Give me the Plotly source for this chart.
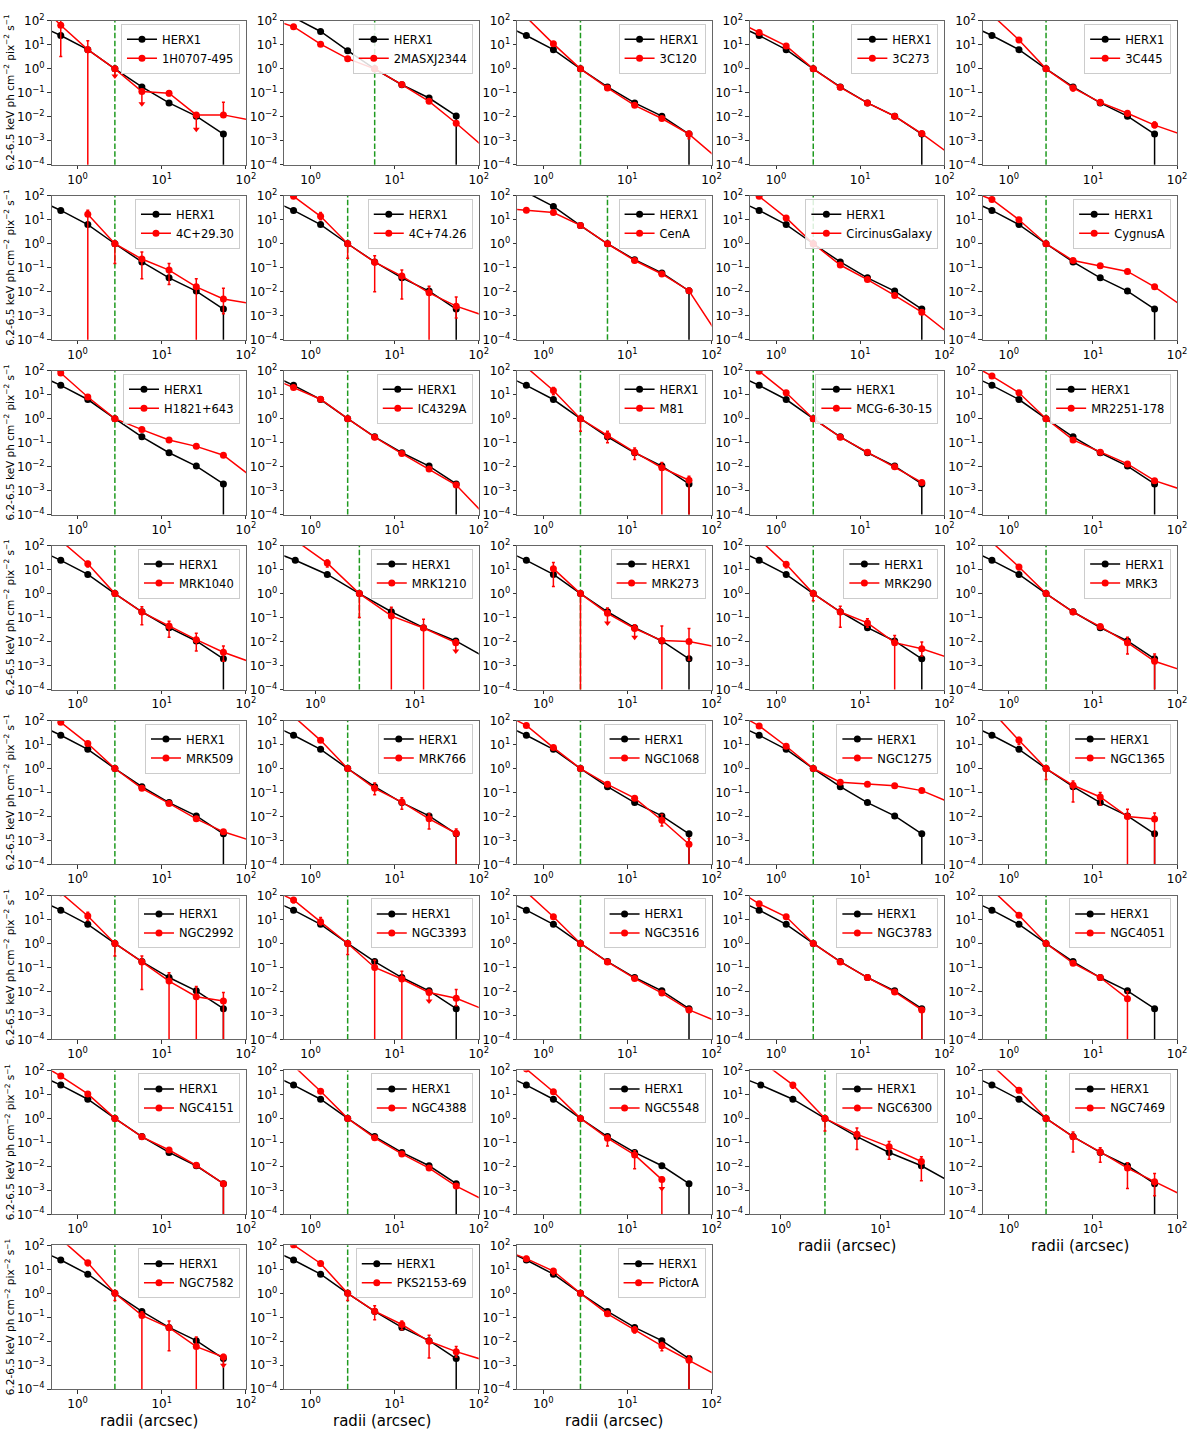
import plotly.graph_objects as go

# ---------------- data ----------------
RADII = [0.3, 0.63, 1.32, 2.77, 5.8, 12.2, 25.7, 54.0, 114.0]

HERX1 = [82, 24.5, 6.3, 1.0, 0.175, 0.038, 0.0106, 0.0019, None]
HERX1_ERR = {1: (22, 27), 2: (5.6, 7.0), 4: (0.16, 0.19), 5: (0.034, 0.042),
             6: (0.0097, 0.0115), 7: (0, 0.0021)}

SOURCES = ["1H0707-495", "2MASXJ2344", "3C120", "3C273", "3C445",
           "4C+29.30", "4C+74.26", "CenA", "CircinusGalaxy", "CygnusA",
           "H1821+643", "IC4329A", "M81", "MCG-6-30-15", "MR2251-178",
           "MRK1040", "MRK1210", "MRK273", "MRK290", "MRK3",
           "MRK509", "MRK766", "NGC1068", "NGC1275", "NGC1365",
           "NGC2992", "NGC3393", "NGC3516", "NGC3783", "NGC4051",
           "NGC4151", "NGC4388", "NGC5548", "NGC6300", "NGC7469",
           "NGC7582", "PKS2153-69", "PictorA"]

NORM_RADIUS = [2.77, 5.8, 2.77, 2.77, 2.77,
               2.77, 2.77, 5.8, 2.77, 2.77,
               2.77, 2.77, 2.77, 2.77, 2.77,
               2.77, 2.77, 2.77, 2.77, 2.77,
               2.77, 2.77, 2.77, 2.77, 2.77,
               2.77, 2.77, 2.77, 2.77, 2.77,
               2.77, 2.77, 2.77, 2.77, 2.77,
               2.77, 2.77, 2.77]

X_LOG_RANGE = [[-0.31, 2.0]] * 16 + [[-0.31, 1.64]] + [[-0.31, 2.0]] * 16 + \
              [[-0.31, 1.64]] + [[-0.31, 2.0]] * 4

RED = [
    [890, 66, 6.3, 1, 0.113, 0.097, 0.012, 0.012, 0.0072],       # 1H0707-495
    [139, 57, 10.7, 2.66, 1, 0.22, 0.044, 0.0054, 0.00056],      # 2MASXJ2344
    [1850, 140, 11, 1, 0.16, 0.03, 0.0085, 0.0019, 0.0002],      # 3C120
    [120, 33, 9, 1, 0.17, 0.038, 0.0105, 0.002, 0.00029],        # 3C273
    [2000, 185, 16, 1, 0.16, 0.04, 0.014, 0.0045, 0.0018],       # 3C445
    [None, None, 17, 1, 0.23, 0.08, 0.016, 0.005, 0.0032],       # 4C+29.30
    [650, 95, 14, 1, 0.17, 0.045, 0.009, 0.0025, 0.00103],       # 4C+74.26
    [31, 25, 20, 5.8, 1, 0.2, 0.055, 0.011, 0.0002],             # CenA
    [750, 95, 12, 1, 0.13, 0.032, 0.007, 0.0014, 0.00018],       # Circinus
    [192, 70, 10, 1, 0.2, 0.12, 0.07, 0.016, 0.0026],            # CygnusA
    [590, 80, 8, 1, 0.35, 0.13, 0.07, 0.03, 0.004],              # H1821+643
    [60, 20, 6.5, 1, 0.17, 0.035, 0.008, 0.0017, 0.00011],       # IC4329A
    [1500, 140, 15, 1, 0.2, 0.04, 0.009, 0.0027, None],          # M81
    [600, 95, 12, 1, 0.17, 0.04, 0.01, 0.0022, None],            # MCG-6-30-15
    [255, 60, 12, 1, 0.13, 0.04, 0.013, 0.0026, 0.0011],         # MR2251-178
    [1500, 162, 17.6, 1, 0.17, 0.045, 0.012, 0.0036, 0.0014],    # MRK1040
    [1500, 160, 18.7, 1, 0.117, 0.037, 0.009, None, None],       # MRK1210
    [None, None, 11, 1, 0.15, 0.035, 0.011, 0.01, 0.0061],       # MRK273
    [2000, 183, 16.6, 1, 0.17, 0.06, 0.009, 0.005, 0.0021],      # MRK290
    [1500, 141, 12.9, 1, 0.17, 0.042, 0.009, 0.0015, 0.00063],   # MRK3
    [660, 85, 11, 1, 0.15, 0.035, 0.008, 0.0023, 0.001],         # MRK509
    [1500, 150, 15, 1, 0.15, 0.04, 0.008, 0.002, None],          # MRK766
    [233, 63, 7.5, 1, 0.22, 0.058, 0.007, 0.0007, None],         # NGC1068
    [255, 60, 8.5, 1, 0.27, 0.22, 0.19, 0.12, 0.04],             # NGC1275
    [2500, 248, 15, 1, 0.2, 0.065, 0.01, 0.0078, None],          # NGC1365
    [1000, 130, 14, 1, 0.17, 0.027, 0.006, 0.004, None],         # NGC2992
    [220, 65, 8, 1, 0.1, 0.033, 0.009, 0.0052, 0.0018],          # NGC3393
    [1500, 140, 13, 1, 0.17, 0.035, 0.0085, 0.0017, 0.00058],    # NGC3516
    [230, 45, 13, 1, 0.17, 0.038, 0.0095, 0.0017, None],         # NGC3783
    [2000, 170, 15, 1, 0.15, 0.038, 0.005, None, None],          # NGC4051
    [270, 58, 10.5, 1, 0.17, 0.048, 0.011, 0.0019, None],        # NGC4151
    [1800, 160, 13.5, 1, 0.155, 0.033, 0.0085, 0.0015, 0.0004],  # NGC4388
    [1000, 115, 13, 1, 0.15, 0.03, 0.0028, None, None],          # NGC5548
    [2500, 257, 25, 1, 0.22, 0.065, 0.016, None, None],          # NGC6300
    [1800, 170, 15, 1, 0.17, 0.04, 0.0085, 0.0023, 0.00064],     # NGC7469
    [1800, 176, 18.7, 1, 0.12, 0.037, 0.006, 0.0022, None],      # NGC7582
    [620, 105, 17.6, 1, 0.18, 0.05, 0.01, 0.0037, 0.00165],      # PKS2153-69
    [77, 28, 8.5, 1, 0.14, 0.03, 0.0065, 0.0016, 0.0004],        # PictorA
]

# error bars: index -> (lower bound, upper bound); lower bound 0 = down to the axis
RED_ERR = [
    {1: (3.3, 300), 2: (0, 15), 3: (0.5, 1.0), 4: (0.035, 0.115), 5: (0.075, 0.12),
     6: (0.003, 0.013), 7: (0.011, 0.04)},
    {},
    {7: (0.0012, 0.0025)},
    {},
    {4: (0.12, 0.2), 5: (0.03, 0.05), 6: (0.011, 0.017), 7: (0.0035, 0.006)},
    {2: (0, 25), 3: (0.15, 1.3), 4: (0.035, 0.45), 5: (0.02, 0.15), 6: (0, 0.035),
     7: (0.0012, 0.014)},
    {2: (10, 20), 3: (0.25, 1.3), 4: (0.01, 0.32), 5: (0.005, 0.08), 6: (0, 0.017),
     7: (0.0008, 0.006)},
    {},
    {},
    {1: (60, 80), 2: (8, 12)},
    {},
    {},
    {2: (10, 20), 3: (0.3, 1.2), 4: (0.1, 0.3), 5: (0.02, 0.06), 6: (0, 0.015), 7: (0, 0.004)},
    {},
    {},
    {2: (13, 22), 3: (0.8, 1.2), 4: (0.05, 0.28), 5: (0.015, 0.07), 6: (0.004, 0.022),
     7: (0.0015, 0.0065)},
    {2: (13, 25), 3: (0.1, 1.3), 4: (0, 0.27), 5: (0, 0.085), 6: (0.004, 0.012)},
    {2: (2, 20), 3: (0, 1.3), 4: (0.06, 0.25), 5: (0.015, 0.05), 6: (0, 0.045),
     7: (0.0017, 0.035)},
    {2: (12, 20), 3: (0.5, 1.2), 4: (0.04, 0.3), 5: (0.04, 0.09), 6: (0, 0.018),
     7: (0.0025, 0.0095)},
    {2: (10, 16), 4: (0.14, 0.2), 5: (0.035, 0.05), 6: (0.003, 0.015), 7: (0, 0.003)},
    {},
    {4: (0.08, 0.25), 5: (0.02, 0.06), 6: (0.003, 0.013), 7: (0, 0.003)},
    {6: (0.004, 0.012), 7: (0, 0.0012)},
    {},
    {2: (10, 20), 3: (0.35, 1.3), 4: (0.04, 0.3), 5: (0.03, 0.1), 6: (0, 0.02), 7: (0, 0.014)},
    {2: (9, 20), 3: (0.3, 1.3), 4: (0.012, 0.3), 5: (0, 0.06), 6: (0, 0.016), 7: (0, 0.009)},
    {1: (50, 80), 2: (6, 12), 3: (0.35, 1.3), 4: (0, 0.2), 5: (0, 0.07), 6: (0.004, 0.012),
     7: (0.0025, 0.012)},
    {},
    {7: (0, 0.002)},
    {6: (0, 0.01)},
    {7: (0, 0.0022)},
    {},
    {4: (0.07, 0.2), 5: (0.008, 0.045), 6: (0, 0.0035)},
    {2: (18, 30), 3: (0.3, 1.3), 4: (0.05, 0.4), 5: (0.02, 0.11), 6: (0.0025, 0.025)},
    {2: (12, 18), 4: (0.04, 0.27), 5: (0.015, 0.06), 6: (0.0012, 0.014), 7: (0.0006, 0.005)},
    {2: (14, 22), 3: (0.5, 1.3), 4: (0, 0.17), 5: (0.004, 0.07), 6: (0, 0.015),
     7: (0.001, 0.0028)},
    {2: (14, 21), 3: (0.5, 1.3), 4: (0.08, 0.3), 5: (0.03, 0.07), 6: (0.002, 0.018),
     7: (0.0022, 0.006)},
    {1: (22, 34), 2: (6, 10), 4: (0.11, 0.17), 5: (0.022, 0.04), 6: (0.004, 0.009),
     7: (0, 0.0025)},
]

# upper-limit arrows: index -> arrow-head value
RED_LIMITS = [{3: 0.5, 4: 0.035, 6: 0.003}] + [{}] * 15 + [{6: 0.004}, {4: 0.06, 5: 0.015}] + \
             [{}] * 8 + [{6: 0.004}] + [{}] * 5 + [{6: 0.0012}] + [{}] * 2 + [{7: 0.001}] + [{}] * 2

Y_TICKS = [1e-4, 1e-3, 1e-2, 1e-1, 1, 10, 100]
Y_TICK_TEXT = ["10<sup>\u22124</sup>", "10<sup>\u22123</sup>", "10<sup>\u22122</sup>",
               "10<sup>\u22121</sup>", "10<sup>0</sup>", "10<sup>1</sup>", "10<sup>2</sup>"]
X_TICKS = [1, 10, 100]
X_TICK_TEXT = ["10<sup>0</sup>", "10<sup>1</sup>", "10<sup>2</sup>"]

Y_LABEL = "6.2-6.5 keV ph cm<sup>\u22122</sup> pix<sup>\u22122</sup> s<sup>\u22121</sup>"
X_LABEL = "radii (arcsec)"

# ---------------- layout geometry (pixels) ----------------
W, H = 1200, 1436
LEFT0, COL_PITCH, PW = 52.0, 234.75, 196.0
TOP0, ROW_PITCH, PH = 12.0, 176.9, 145.5
FRAME = "#666666"
GREEN = "#1f9a1f"
FONT = "DejaVu Sans"


def err_arrays(vals, errs):
    plus, minus = [], []
    for k, v in enumerate(vals):
        if v is None or k not in errs:
            plus.append(0)
            minus.append(0)
        else:
            lo, hi = errs[k]
            plus.append(max(hi - v, 0))
            minus.append(v if lo <= 0 else max(v - lo, 0))
    return plus, minus


fig = go.Figure()
layout = dict(width=W, height=H, margin=dict(l=0, r=0, t=0, b=0),
              paper_bgcolor="white", plot_bgcolor="white", showlegend=True,
              font=dict(family=FONT, color="black"))
shapes, annotations = [], []

for i, name in enumerate(SOURCES):
    r, c = divmod(i, 5)
    sfx = "" if i == 0 else str(i + 1)
    left = LEFT0 + COL_PITCH * c
    top = TOP0 + ROW_PITCH * r
    xd = [left / W, (left + PW) / W]
    yd = [1 - (top + PH) / H, 1 - top / H]
    legend_id = "legend" + sfx

    # HERX1 normalised at this panel's normalisation radius
    ni = RADII.index(NORM_RADIUS[i])
    scale = HERX1[ni]
    bvals = [None if v is None else v / scale for v in HERX1]
    berr = {k: (lo / scale, hi / scale) for k, (lo, hi) in HERX1_ERR.items()}
    bp, bm = err_arrays(bvals, berr)
    fig.add_trace(go.Scatter(
        x=RADII, y=bvals, mode="lines+markers", name="HERX1",
        line=dict(color="black", width=1.5), marker=dict(color="black", size=7),
        error_y=dict(type="data", symmetric=False, array=bp, arrayminus=bm,
                     color="black", thickness=1.5, width=1.5),
        xaxis="x" + sfx, yaxis="y" + sfx, legend=legend_id))

    rvals = RED[i]
    rp, rm = err_arrays(rvals, RED_ERR[i])
    fig.add_trace(go.Scatter(
        x=RADII, y=rvals, mode="lines+markers", name=name,
        line=dict(color="red", width=1.5), marker=dict(color="red", size=7),
        error_y=dict(type="data", symmetric=False, array=rp, arrayminus=rm,
                     color="red", thickness=1.5, width=1.5),
        xaxis="x" + sfx, yaxis="y" + sfx, legend=legend_id))

    lims = RED_LIMITS[i]
    if lims:
        fig.add_trace(go.Scatter(
            x=[RADII[k] for k in lims], y=list(lims.values()), mode="markers",
            marker=dict(symbol="triangle-down", color="red", size=6),
            showlegend=False, hoverinfo="skip",
            xaxis="x" + sfx, yaxis="y" + sfx))

    axis_common = dict(showgrid=False, zeroline=False, showline=True, mirror=True,
                       linecolor=FRAME, linewidth=1, ticks="outside", ticklen=3.5,
                       tickwidth=1, tickcolor="#333333",
                       tickfont=dict(family=FONT, size=12, color="black"))
    layout["xaxis" + sfx] = dict(axis_common, type="log", range=X_LOG_RANGE[i], domain=xd,
                                 anchor="y" + sfx, tickmode="array",
                                 tickvals=X_TICKS, ticktext=X_TICK_TEXT)
    layout["yaxis" + sfx] = dict(axis_common, type="log", range=[-4, 2], domain=yd,
                                 anchor="x" + sfx, tickmode="array",
                                 tickvals=Y_TICKS, ticktext=Y_TICK_TEXT)

    layout[legend_id] = dict(x=(left + PW - 6) / W, y=1 - (top + 3) / H,
                             xanchor="right", yanchor="top",
                             bgcolor="rgba(255,255,255,0.85)", bordercolor="#cccccc",
                             borderwidth=1, font=dict(family=FONT, size=11.5),
                             itemwidth=30, tracegroupgap=0)

    shapes.append(dict(type="line", xref="x" + sfx, yref="y" + sfx + " domain",
                       x0=NORM_RADIUS[i], x1=NORM_RADIUS[i], y0=0, y1=1, layer="below",
                       line=dict(color=GREEN, width=1.5, dash="5.5px,2.4px")))

    if c == 0:
        annotations.append(dict(text=Y_LABEL, xref="paper", yref="paper",
                                x=9 / W, y=1 - (top + PH / 2) / H, xanchor="center",
                                yanchor="middle", textangle=-90, showarrow=False,
                                font=dict(family=FONT, size=10.5)))
    is_bottom = (i + 5) >= len(SOURCES)
    if is_bottom:
        annotations.append(dict(text=X_LABEL, xref="paper", yref="paper",
                                x=(left + PW / 2) / W, y=1 - (top + PH + 32) / H,
                                xanchor="center", yanchor="middle", showarrow=False,
                                font=dict(family=FONT, size=15)))

layout["shapes"] = shapes
layout["annotations"] = annotations
fig.update_layout(**layout)

fig.write_html("out.html", config={"displayModeBar": False},
               post_script="document.body.style.margin='0';")
